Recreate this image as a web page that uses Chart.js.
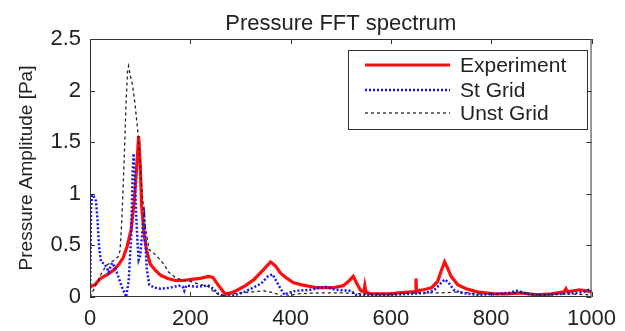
<!DOCTYPE html>
<html>
<head>
<meta charset="utf-8">
<title>Pressure FFT spectrum</title>
<script src="https://cdn.jsdelivr.net/npm/chart.js@4.4.0/dist/chart.umd.min.js"></script>
<style>
  body { margin: 0; background: #fff; }
</style>
</head>
<body>
<canvas id="fft" width="625" height="331"></canvas>
<script>
// frequency [Hz] / amplitude [Pa]
var expHz  = [0, 10, 21, 35, 47, 58, 66, 74, 82, 88, 93, 97, 100, 103, 108, 113, 120, 130, 141, 155, 170, 185, 202, 220, 236, 245, 255, 269, 282, 295, 310, 327, 345, 360, 370, 380, 393, 405, 420, 452, 485, 505, 515, 525, 532, 540, 546, 548, 550, 560, 580, 600, 615, 640, 649, 650, 651, 665, 681, 693, 700, 707, 713, 720, 733, 750, 772, 805, 830, 858, 875, 890, 920, 945, 949, 952, 976, 990, 1000];
var expAmp = [0.10, 0.12, 0.18, 0.22, 0.26, 0.32, 0.38, 0.49, 0.65, 0.92, 1.25, 1.56, 1.30, 0.88, 0.60, 0.45, 0.32, 0.26, 0.21, 0.18, 0.16, 0.16, 0.17, 0.18, 0.20, 0.19, 0.12, 0.03, 0.04, 0.07, 0.11, 0.17, 0.26, 0.34, 0.30, 0.23, 0.18, 0.14, 0.12, 0.09, 0.09, 0.11, 0.15, 0.20, 0.13, 0.06, 0.05, 0.11, 0.05, 0.03, 0.03, 0.03, 0.04, 0.05, 0.05, 0.18, 0.06, 0.07, 0.09, 0.15, 0.25, 0.34, 0.28, 0.20, 0.12, 0.08, 0.05, 0.03, 0.03, 0.04, 0.03, 0.02, 0.03, 0.05, 0.08, 0.05, 0.07, 0.06, 0.05];

var stHz  = [0, 2, 4, 8, 12, 15, 18, 22, 29, 34, 37, 41, 44, 48, 52, 59, 65, 69, 72, 77, 82, 85, 87, 89, 92, 95, 97, 100, 103, 106, 108, 110, 113, 118, 128, 141, 160, 177, 185, 188, 192, 210, 236, 246, 256, 266, 275, 290, 308, 325, 341, 355, 364, 372, 380, 388, 395, 410, 440, 469, 490, 520, 531, 560, 600, 640, 670, 685, 697, 707, 715, 725, 740, 772, 810, 835, 851, 860, 871, 903, 940, 969, 985, 995, 1000];
var stAmp = [0.00, 0.85, 0.99, 0.97, 0.93, 0.75, 0.49, 0.34, 0.32, 0.28, 0.24, 0.30, 0.33, 0.30, 0.26, 0.16, 0.08, 0.04, 0.00, 0.15, 0.58, 1.20, 1.39, 1.20, 0.80, 0.50, 0.36, 0.40, 0.55, 0.72, 0.78, 0.60, 0.28, 0.12, 0.09, 0.08, 0.09, 0.11, 0.10, 0.06, 0.11, 0.10, 0.11, 0.08, 0.03, 0.01, 0.00, 0.02, 0.05, 0.09, 0.13, 0.20, 0.22, 0.15, 0.08, 0.02, 0.04, 0.06, 0.07, 0.10, 0.07, 0.06, 0.02, 0.02, 0.02, 0.03, 0.04, 0.06, 0.12, 0.17, 0.14, 0.07, 0.04, 0.02, 0.03, 0.04, 0.06, 0.05, 0.03, 0.02, 0.03, 0.04, 0.05, 0.07, 0.06];

var unstHz  = [0, 10, 23, 32, 42, 50, 56, 60, 63, 66, 69, 72, 75, 77, 80, 85, 90, 95, 98, 100, 105, 111, 118, 128, 138, 147, 157, 170, 185, 202, 220, 236, 250, 269, 285, 301, 325, 347, 367, 386, 413, 450, 500, 550, 600, 650, 700, 740, 770, 820, 860, 900, 950, 1000];
var unstAmp = [0.00, 0.10, 0.23, 0.30, 0.34, 0.36, 0.39, 0.45, 0.70, 1.05, 1.45, 1.90, 2.20, 2.24, 2.15, 2.05, 1.86, 1.62, 1.44, 1.30, 0.95, 0.65, 0.46, 0.42, 0.37, 0.32, 0.24, 0.19, 0.16, 0.15, 0.12, 0.10, 0.04, 0.01, 0.03, 0.04, 0.05, 0.06, 0.04, 0.00, 0.03, 0.04, 0.04, 0.03, 0.03, 0.04, 0.04, 0.05, 0.03, 0.03, 0.04, 0.02, 0.03, 0.02];

var seriesNames = ['Experiment', 'St Grid', 'Unst Grid'];
var xTicks = [0, 200, 400, 600, 800, 1000];
var yTicks = [0, 0.5, 1, 1.5, 2, 2.5];

function pts(xs, ys) {
    var out = [];
    for (var i = 0; i < xs.length; i++) out.push({ x: xs[i], y: ys[i] });
    return out;
}

var FONT = "'Liberation Sans', Arial, sans-serif";

// MATLAB style box, inward ticks, title and legend
var matlabBox = {
    id: 'matlabBox',
    afterDraw: function(chart) {
        var ctx = chart.ctx, a = chart.chartArea;
        var xs = chart.scales.x, ys = chart.scales.y;
        ctx.save();
        ctx.strokeStyle = '#333';
        ctx.lineWidth = 1;
        ctx.strokeRect(a.left + 0.5, a.top + 0.5, a.right - a.left - 1, a.bottom - a.top - 1);
        ctx.beginPath();
        xTicks.forEach(function(v) {
            var px = Math.round(xs.getPixelForValue(v)) + 0.5;
            ctx.moveTo(px, a.bottom); ctx.lineTo(px, a.bottom - 5);
            ctx.moveTo(px, a.top); ctx.lineTo(px, a.top + 5);
        });
        yTicks.forEach(function(v) {
            var py = Math.round(ys.getPixelForValue(v)) + 0.5;
            ctx.moveTo(a.left, py); ctx.lineTo(a.left + 5, py);
            ctx.moveTo(a.right, py); ctx.lineTo(a.right - 5, py);
        });
        ctx.stroke();

        // title
        ctx.fillStyle = '#222';
        ctx.font = '22px ' + FONT;
        ctx.textAlign = 'center';
        ctx.textBaseline = 'alphabetic';
        ctx.fillText('Pressure FFT spectrum', (a.left + a.right) / 2, 30);

        // legend
        var bx = 348, by = 50, bw = 239, bh = 79;
        ctx.fillStyle = '#fff';
        ctx.fillRect(bx, by, bw, bh);
        ctx.strokeStyle = '#333';
        ctx.strokeRect(bx + 0.5, by + 0.5, bw, bh);
        var rows = [65, 90, 113];
        chart.data.datasets.forEach(function(ds, i) {
            ctx.beginPath();
            ctx.strokeStyle = ds.borderColor;
            ctx.lineWidth = ds.borderWidth;
            ctx.setLineDash(ds.borderDash || []);
            ctx.moveTo(365, rows[i]); ctx.lineTo(450, rows[i]);
            ctx.stroke();
            ctx.setLineDash([]);
            ctx.fillStyle = '#222';
            ctx.font = '21px ' + FONT;
            ctx.textAlign = 'left';
            ctx.textBaseline = 'middle';
            ctx.fillText(ds.label, 460, rows[i] + 1);
        });
        ctx.restore();
    }
};

new Chart(document.getElementById('fft'), {
    type: 'line',
    data: {
        datasets: [{
            label: seriesNames[0],
            data: pts(expHz, expAmp),
            borderColor: '#ff0d0d',
            borderWidth: 3.2,
            order: 3
        }, {
            label: seriesNames[1],
            data: pts(stHz, stAmp),
            borderColor: '#1414ff',
            borderWidth: 2.5,
            borderDash: [2, 2],
            order: 2
        }, {
            label: seriesNames[2],
            data: pts(unstHz, unstAmp),
            borderColor: '#222',
            borderWidth: 1.3,
            borderDash: [3, 3],
            order: 1
        }]
    },
    options: {
        responsive: false,
        animation: false,
        elements: { point: { radius: 0 }, line: { tension: 0 } },
        layout: { padding: { top: 39, right: 25, left: 0, bottom: 0 } },
        plugins: {
            legend: { display: false },
            title: { display: false },
            tooltip: { enabled: false }
        },
        scales: {
            x: {
                type: 'linear',
                min: 0,
                max: 1000,
                afterBuildTicks: function(s) { s.ticks = xTicks.map(function(v) { return { value: v }; }); },
                afterFit: function(s) { s.height = 34; },
                grid: { display: false, drawTicks: false },
                border: { display: false },
                ticks: {
                    color: '#222', font: { size: 22, family: FONT }, padding: 9, maxRotation: 0,
                    callback: function(v) { return String(v); }
                }
            },
            y: {
                min: 0,
                max: 2.5,
                afterBuildTicks: function(s) { s.ticks = yTicks.map(function(v) { return { value: v }; }); },
                afterFit: function(s) { s.width = 90; },
                grid: { display: false, drawTicks: false },
                border: { display: false },
                ticks: {
                    color: '#222', font: { size: 22, family: FONT }, padding: 9,
                    callback: function(v) { return String(v); }
                },
                title: {
                    display: true,
                    text: 'Pressure Amplitude [Pa]',
                    color: '#222',
                    font: { size: 19, family: FONT },
                    padding: { top: 15, bottom: 0 }
                }
            }
        }
    },
    plugins: [matlabBox]
});
</script>
</body>
</html>
